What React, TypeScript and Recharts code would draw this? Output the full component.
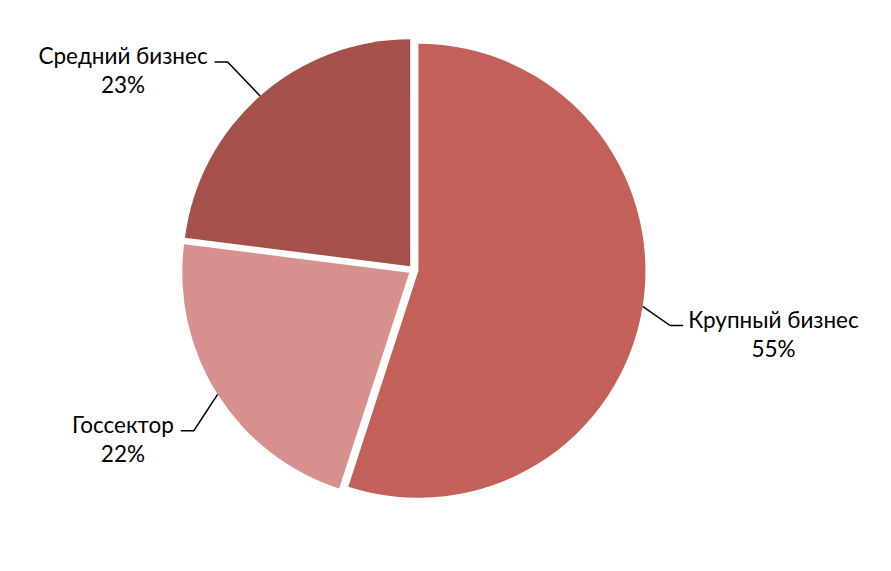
import React from 'react';
import { PieChart, Pie, Cell, Sector } from 'recharts';

const categories = ['Крупный бизнес', 'Госсектор', 'Средний бизнес'];
const shares = [55, 22, 23];
const colors = ['#C3605A', '#D6918E', '#A5504B'];

// label elbow nudges (layout only)
const labelNudge = [
  { dx: -12, dy: 13 },
  { dx: 10, dy: 15 },
  { dx: -6, dy: -4 },
];

const data = categories.map((name, i) => ({ name, value: shares[i] }));

const RAD = Math.PI / 180;
const EXPLODE = 5;
const FONT_SIZE = 22.5;
const FONT_FAMILY = 'Lato, "Open Sans", sans-serif';

let ctx: CanvasRenderingContext2D | null = null;
function measure(text: string): number {
  if (!ctx) {
    const c = document.createElement('canvas');
    ctx = c.getContext('2d');
  }
  if (!ctx) return text.length * FONT_SIZE * 0.55;
  ctx.font = `${FONT_SIZE}px ${FONT_FAMILY}`;
  return ctx.measureText(text).width;
}

const ExplodedSector = (props: any) => {
  const { cx, cy, midAngle } = props;
  const dx = EXPLODE * Math.cos(-midAngle * RAD);
  const dy = EXPLODE * Math.sin(-midAngle * RAD);
  return <Sector {...props} cx={cx + dx} cy={cy + dy} stroke="none" />;
};

const renderLabel = (props: any) => {
  const { cx, cy, midAngle, outerRadius, name, percent, index } = props;
  const cos = Math.cos(-midAngle * RAD);
  const sin = Math.sin(-midAngle * RAD);
  const sx = cx + (outerRadius + 5) * cos;
  const sy = cy + (outerRadius + 5) * sin;
  const nudge = labelNudge[index] || { dx: 0, dy: 0 };
  const ex = cx + (outerRadius + 45) * cos + nudge.dx;
  const ey = cy + (outerRadius + 45) * sin + nudge.dy;
  const right = cos >= 0;
  const hx = ex + (right ? 13 : -13);
  const w = measure(name);
  const tx = hx + (right ? 5 : -7);
  const center = right ? tx + w / 2 : tx - w / 2;
  return (
    <g key={`lbl-${index}`}>
      <polyline
        points={`${sx},${sy} ${ex},${ey} ${hx},${ey}`}
        stroke="#000"
        strokeWidth={1.5}
        fill="none"
      />
      <text
        x={center}
        y={ey + 2}
        textAnchor="middle"
        fontSize={FONT_SIZE}
        fontFamily={FONT_FAMILY}
        fill="#000"
      >
        {name}
      </text>
      <text
        x={center}
        y={ey + 31}
        textAnchor="middle"
        fontSize={FONT_SIZE}
        fontFamily={FONT_FAMILY}
        fill="#000"
      >
        {`${Math.round(percent * 100)}%`}
      </text>
    </g>
  );
};

export default function App() {
  return (
    <div style={{ position: 'absolute', left: 0, top: 0, width: 891, height: 571, background: '#fff' }}>
      <PieChart width={891} height={571} margin={{ top: 0, right: 0, bottom: 0, left: 0 }}>
        <Pie
          data={data}
          dataKey="value"
          nameKey="name"
          cx={413.5}
          cy={270}
          outerRadius={227}
          startAngle={90}
          endAngle={-270}
          stroke="none"
          shape={ExplodedSector}
          label={renderLabel}
          labelLine={false}
          isAnimationActive={false}
        >
          {data.map((d, i) => (
            <Cell key={d.name} fill={colors[i]} />
          ))}
        </Pie>
      </PieChart>
    </div>
  );
}
